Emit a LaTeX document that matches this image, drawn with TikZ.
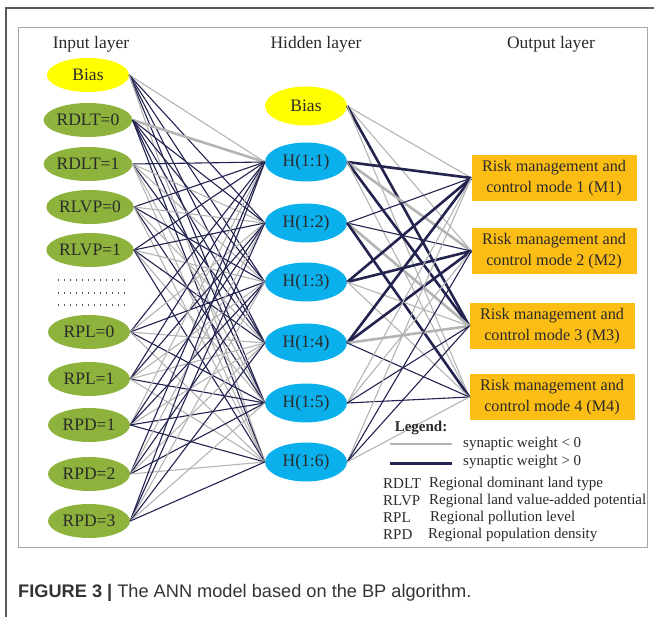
\documentclass[tikz,border=0pt]{standalone}
\usepackage{fontspec}
\setmainfont{Liberation Serif}
\newfontfamily\capfont{Liberation Sans}
\usetikzlibrary{shapes.geometric}
\definecolor{ingreen}{HTML}{8DB33C}
\definecolor{hidcyan}{HTML}{0AB0EC}
\definecolor{biasyel}{HTML}{FFFF00}
\definecolor{outorg}{HTML}{FCBE14}
\definecolor{negcol}{HTML}{B4B4B4}
\definecolor{poscol}{HTML}{23234F}
\definecolor{txt}{HTML}{2A2A2A}
\begin{document}
\begin{tikzpicture}[x=1pt,y=-1pt,
  inp/.style={ellipse, fill=ingreen, minimum width=82pt, minimum height=34pt, inner sep=0pt, text=txt, font=\fontsize{17.5}{17.5}\selectfont},
  inbias/.style={inp, fill=biasyel},
  hid/.style={ellipse, fill=hidcyan, minimum width=82pt, minimum height=39pt, inner sep=0pt, text=txt, font=\fontsize{17.5}{17.5}\selectfont},
  hidbias/.style={hid, fill=biasyel},
  outbox/.style={rectangle, fill=outorg, minimum width=165pt, minimum height=46pt, inner sep=0pt, align=center, text=txt, font=\fontsize{16.2}{20.5}\selectfont},
  title/.style={text=txt, font=\fontsize{17.5}{17.5}\selectfont},
  legtext/.style={anchor=west, text=txt, inner sep=0pt, font=\fontsize{15}{15}\selectfont},
  wg/.style={draw=negcol, line width=1.1pt},
  wG/.style={draw=negcol, line width=2.6pt},
  wd/.style={draw=poscol, line width=1.1pt},
  wD/.style={draw=poscol, line width=2.6pt},
  dotrow/.style={draw=txt!80, line width=1.3pt, dash pattern=on 1.3pt off 4.7pt},
  outerframe/.style={draw=black!65, line width=1.2pt},
  innerframe/.style={draw=black!35, line width=1pt}
]
\useasboundingbox (0,0) rectangle (654,617);
% frames
\coordinate (fa) at (6,617);
\coordinate (fb) at (6,8);
\coordinate (fc) at (654,8);
\draw[outerframe] (fa) -- (fb) -- (fc);
\coordinate (ra) at (18,28);
\coordinate (rb) at (647,548);
\draw[innerframe] (ra) rectangle (rb);
% titles
\node[title] (tin) at (91,44) {Input layer};
\node[title] (thid) at (316,44) {Hidden layer};
\node[title] (tout) at (551,44) {Output layer};
% input layer
\node[inbias] (i1) at (88,75) {Bias};
\node[inp] (i2) at (88,120) {RDLT=0};
\node[inp] (i3) at (88,164) {RDLT=1};
\node[inp] (i4) at (90,207) {RLVP=0};
\node[inp] (i5) at (90,250) {RLVP=1};
\node[inp] (i6) at (89,332) {RPL=0};
\node[inp] (i7) at (89,379) {RPL=1};
\node[inp] (i8) at (89,425) {RPD=1};
\node[inp] (i9) at (89,474) {RPD=2};
\node[inp] (i10) at (89,521) {RPD=3};
% dots
\coordinate (d1a) at (58,280); \coordinate (d1b) at (126,280);
\coordinate (d2a) at (58,293); \coordinate (d2b) at (126,293);
\coordinate (d3a) at (58,305); \coordinate (d3b) at (126,305);
\draw[dotrow] (d1a) -- (d1b);
\draw[dotrow] (d2a) -- (d2b);
\draw[dotrow] (d3a) -- (d3b);
% hidden layer
\node[hidbias] (h0) at (306,106) {Bias};
\node[hid] (h1) at (306,162) {H(1:1)};
\node[hid] (h2) at (306,223) {H(1:2)};
\node[hid] (h3) at (306,282) {H(1:3)};
\node[hid] (h4) at (306,343) {H(1:4)};
\node[hid] (h5) at (306,403) {H(1:5)};
\node[hid] (h6) at (306,462) {H(1:6)};
% output layer
\node[outbox] (o1) at (554,178) {Risk management and\\control mode 1 (M1)};
\node[outbox] (o2) at (554,251) {Risk management and\\control mode 2 (M2)};
\node[outbox] (o3) at (552,326) {Risk management and\\control mode 3 (M3)};
\node[outbox] (o4) at (552,397) {Risk management and\\control mode 4 (M4)};
% input -> hidden connections
\foreach \i/\row in {1/{g,d,d,d,d,g}, 2/{G,d,d,d,d,d}, 3/{d,g,g,d,g,g}, 4/{d,g,d,g,d,g}, 5/{d,d,g,d,g,d}, 6/{d,g,d,g,d,g}, 7/{d,d,g,g,d,g}, 8/{g,d,d,g,d,d}, 9/{d,g,d,g,d,g}, 10/{d,d,g,d,g,d}}{
  \foreach \c [count=\j] in \row {
    \draw[w\c] (i\i.east) -- (h\j.west);
  }
}
% hidden -> output connections
\foreach \i/\row in {0/{g,g,D,g}, 1/{D,G,D,g}, 2/{d,d,G,D}, 3/{D,D,g,g}, 4/{D,D,G,d}, 5/{g,g,d,d}, 6/{g,d,d,g}}{
  \foreach \c [count=\j] in \row {
    \draw[w\c] (h\i.east) -- (o\j.west);
  }
}
% legend
\node[anchor=center, text=txt, font=\fontsize{15}{15}\selectfont\bfseries] (leg) at (421,428) {Legend:};
\coordinate (lga) at (390,444); \coordinate (lgb) at (452,444);
\coordinate (lda) at (390,464); \coordinate (ldb) at (452,464);
\draw[draw=negcol, line width=2pt] (lga) -- (lgb);
\draw[draw=poscol, line width=3pt] (lda) -- (ldb);
\node[legtext] (ln) at (463,444) {synaptic weight < 0};
\node[legtext] (lp) at (463,462) {synaptic weight > 0};
\node[legtext] (a1) at (383,484) {RDLT};
\node[legtext] (b1) at (429,484) {Regional dominant land type};
\node[legtext] (a2) at (383,501) {RLVP};
\node[legtext] (b2) at (429,501) {Regional land value-added potential};
\node[legtext] (a3) at (383,518) {RPL};
\node[legtext] (b3) at (430,518) {Regional pollution level};
\node[legtext] (a4) at (383,535) {RPD};
\node[legtext] (b4) at (428,535) {Regional population density};
% caption
\node[anchor=west, inner sep=0pt, text=black!80, font=\capfont\fontsize{18.2}{18.2}\selectfont] (cap) at (18,593) {\textbf{FIGURE 3 |} The ANN model based on the BP algorithm.};
\end{tikzpicture}
\end{document}
